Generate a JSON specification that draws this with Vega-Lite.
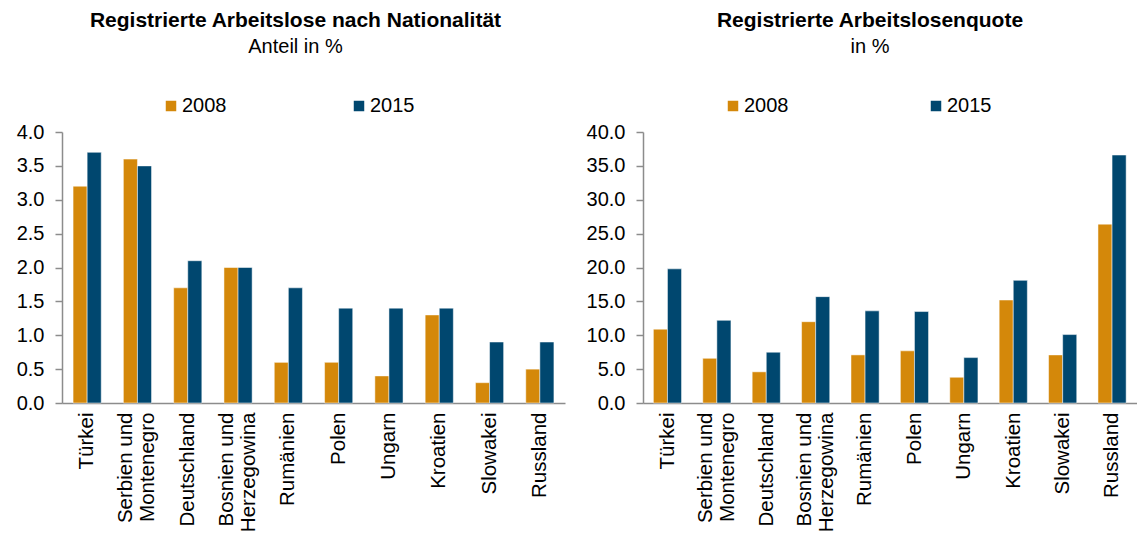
{
  "$schema": "https://vega.github.io/schema/vega-lite/v6.json",
  "padding": {"left": 7, "top": 10, "right": 0, "bottom": 0},
  "config": {
    "font": "Liberation Sans",
    "view": {"stroke": null},
    "concat": {"spacing": 18},
    "axis": {"labelFont": "Liberation Sans", "labelColor": "#000000", "domainColor": "#8C8C8C", "tickColor": "#8C8C8C", "domainWidth": 1.5, "tickWidth": 1.5, "grid": false},
    "legend": {"labelFont": "Liberation Sans", "labelFontSize": 20, "labelColor": "#000000", "symbolType": "square", "symbolSize": 110, "symbolStrokeWidth": 0, "labelOffset": 1, "padding": 0, "orient": "none", "direction": "horizontal", "title": null},
    "title": {"font": "Liberation Sans", "fontSize": 21, "fontWeight": "bold", "color": "#000000", "subtitleFont": "Liberation Sans", "subtitleFontSize": 20, "subtitleColor": "#000000", "anchor": "middle"}
  },
  "datasets": {
    "anteil": [
      {"land": "Türkei", "jahr": "2008", "wert": 3.2},
      {"land": "Türkei", "jahr": "2015", "wert": 3.7},
      {"land": "Serbien und Montenegro", "jahr": "2008", "wert": 3.6},
      {"land": "Serbien und Montenegro", "jahr": "2015", "wert": 3.5},
      {"land": "Deutschland", "jahr": "2008", "wert": 1.7},
      {"land": "Deutschland", "jahr": "2015", "wert": 2.1},
      {"land": "Bosnien und Herzegowina", "jahr": "2008", "wert": 2.0},
      {"land": "Bosnien und Herzegowina", "jahr": "2015", "wert": 2.0},
      {"land": "Rumänien", "jahr": "2008", "wert": 0.6},
      {"land": "Rumänien", "jahr": "2015", "wert": 1.7},
      {"land": "Polen", "jahr": "2008", "wert": 0.6},
      {"land": "Polen", "jahr": "2015", "wert": 1.4},
      {"land": "Ungarn", "jahr": "2008", "wert": 0.4},
      {"land": "Ungarn", "jahr": "2015", "wert": 1.4},
      {"land": "Kroatien", "jahr": "2008", "wert": 1.3},
      {"land": "Kroatien", "jahr": "2015", "wert": 1.4},
      {"land": "Slowakei", "jahr": "2008", "wert": 0.3},
      {"land": "Slowakei", "jahr": "2015", "wert": 0.9},
      {"land": "Russland", "jahr": "2008", "wert": 0.5},
      {"land": "Russland", "jahr": "2015", "wert": 0.9}
    ],
    "quote": [
      {"land": "Türkei", "jahr": "2008", "wert": 10.9},
      {"land": "Türkei", "jahr": "2015", "wert": 19.8},
      {"land": "Serbien und Montenegro", "jahr": "2008", "wert": 6.6},
      {"land": "Serbien und Montenegro", "jahr": "2015", "wert": 12.2},
      {"land": "Deutschland", "jahr": "2008", "wert": 4.6},
      {"land": "Deutschland", "jahr": "2015", "wert": 7.5},
      {"land": "Bosnien und Herzegowina", "jahr": "2008", "wert": 12.0},
      {"land": "Bosnien und Herzegowina", "jahr": "2015", "wert": 15.7},
      {"land": "Rumänien", "jahr": "2008", "wert": 7.1},
      {"land": "Rumänien", "jahr": "2015", "wert": 13.6},
      {"land": "Polen", "jahr": "2008", "wert": 7.7},
      {"land": "Polen", "jahr": "2015", "wert": 13.5},
      {"land": "Ungarn", "jahr": "2008", "wert": 3.8},
      {"land": "Ungarn", "jahr": "2015", "wert": 6.7},
      {"land": "Kroatien", "jahr": "2008", "wert": 15.2},
      {"land": "Kroatien", "jahr": "2015", "wert": 18.1},
      {"land": "Slowakei", "jahr": "2008", "wert": 7.1},
      {"land": "Slowakei", "jahr": "2015", "wert": 10.1},
      {"land": "Russland", "jahr": "2008", "wert": 26.4},
      {"land": "Russland", "jahr": "2015", "wert": 36.6}
    ]
  },
  "hconcat": [
    {
      "width": 503,
      "height": 271,
      "data": {"name": "anteil"},
      "title": {"text": "Registrierte Arbeitslose nach Nationalität", "subtitle": "Anteil in %", "dx": -18, "offset": 39, "subtitlePadding": 6},
      "mark": {"type": "bar", "stroke": "#ffffff", "strokeWidth": 0.5},
      "encoding": {
        "x": {
          "field": "land", "type": "nominal", "sort": null, "title": null,
          "scale": {"paddingInner": 0.44, "paddingOuter": 0.22},
          "axis": {"labelAngle": 270, "labelAlign": "right", "labelBaseline": "middle", "labelFontSize": 20.5, "labelPadding": 9, "labelLineHeight": 22, "ticks": false, "labelLimit": 200, "labelOffset": {"condition": {"test": "indexof(datum.value, ' und ') >= 0", "value": -11}, "value": 0}, "labelExpr": "split(replace(datum.label, ' und ', ' und|'), '|')"}
        },
        "xOffset": {"field": "jahr", "type": "nominal", "sort": ["2008", "2015"]},
        "y": {
          "field": "wert", "type": "quantitative", "title": null,
          "scale": {"domain": [0, 4]},
          "axis": {"values": [0, 0.5, 1, 1.5, 2, 2.5, 3, 3.5, 4], "format": ".1f", "labelFontSize": 20, "tickSize": 7, "labelPadding": 11, "minExtent": 55, "maxExtent": 55}
        },
        "color": {
          "field": "jahr", "type": "nominal",
          "scale": {"domain": ["2008", "2015"], "range": ["#D4880A", "#00476F"]},
          "legend": {"legendX": 99, "legendY": -36, "columnPadding": 122}
        }
      }
    },
    {
      "width": 494,
      "height": 271,
      "data": {"name": "quote"},
      "title": {"text": "Registrierte Arbeitslosenquote", "subtitle": "in %", "dx": -20, "offset": 39, "subtitlePadding": 6},
      "mark": {"type": "bar", "stroke": "#ffffff", "strokeWidth": 0.5},
      "encoding": {
        "x": {
          "field": "land", "type": "nominal", "sort": null, "title": null,
          "scale": {"paddingInner": 0.42, "paddingOuter": 0.21},
          "axis": {"labelAngle": 270, "labelAlign": "right", "labelBaseline": "middle", "labelFontSize": 20.5, "labelPadding": 9, "labelLineHeight": 22, "ticks": false, "labelLimit": 200, "labelOffset": {"condition": {"test": "indexof(datum.value, ' und ') >= 0", "value": -11}, "value": 0}, "labelExpr": "split(replace(datum.label, ' und ', ' und|'), '|')"}
        },
        "xOffset": {"field": "jahr", "type": "nominal", "sort": ["2008", "2015"]},
        "y": {
          "field": "wert", "type": "quantitative", "title": null,
          "scale": {"domain": [0, 40]},
          "axis": {"values": [0, 5, 10, 15, 20, 25, 30, 35, 40], "format": ".1f", "labelFontSize": 20, "tickSize": 7, "labelPadding": 11, "minExtent": 60, "maxExtent": 60}
        },
        "color": {
          "field": "jahr", "type": "nominal",
          "scale": {"domain": ["2008", "2015"], "range": ["#D4880A", "#00476F"]},
          "legend": {"legendX": 80, "legendY": -36, "columnPadding": 137}
        }
      }
    }
  ],
  "resolve": {"scale": {"color": "independent"}, "legend": {"color": "independent"}}
}
